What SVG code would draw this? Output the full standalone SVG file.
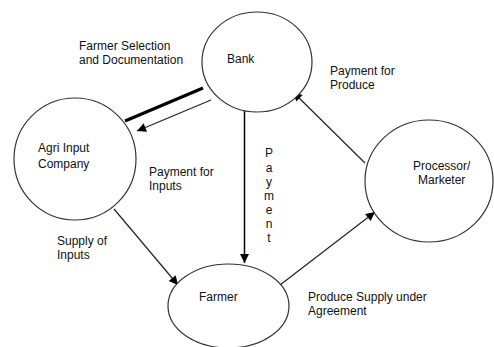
<svg xmlns="http://www.w3.org/2000/svg" width="494" height="347" viewBox="0 0 494 347">
<style>
.node{fill:#fff;stroke:#333;stroke-width:1.2}
.t{font-family:"Liberation Sans",Arial,sans-serif;font-size:12px;fill:#111}
.c{stroke:#222;stroke-width:1.2;fill:none}
</style>
<defs>
<marker id="ah" viewBox="0 0 10 10" refX="10" refY="5" markerWidth="11" markerHeight="9" markerUnits="userSpaceOnUse" orient="auto">
<path d="M0,0 L10,5 L0,10 z" fill="#000"/>
</marker>
</defs>
<rect width="494" height="347" fill="#fff"/>
<g id="connectors">
<line class="c" x1="203" y1="88" x2="125" y2="121" style="stroke-width:3;stroke:#000"/>
<line class="c" x1="211" y1="100" x2="137" y2="131" marker-end="url(#ah)"/>
<line class="c" x1="244.5" y1="111" x2="244.5" y2="263" marker-end="url(#ah)" style="stroke-width:1.5;stroke:#000"/>
<line class="c" x1="365" y1="163" x2="293" y2="92" marker-end="url(#ah)"/>
<line class="c" x1="114" y1="209" x2="178" y2="285" marker-end="url(#ah)"/>
<line class="c" x1="280" y1="285" x2="375" y2="212" marker-end="url(#ah)"/>
</g>
<g id="bank">
<ellipse class="node" cx="257" cy="62" rx="55" ry="50"/>
<text class="t" x="227" y="63">Bank</text>
</g>
<g id="agri">
<ellipse class="node" cx="75" cy="159" rx="61" ry="61"/>
<text class="t" x="38" y="152">Agri Input</text>
<text class="t" x="38" y="168">Company</text>
</g>
<g id="farmer">
<ellipse class="node" cx="228.5" cy="306" rx="60.5" ry="42"/>
<text class="t" x="199" y="301">Farmer</text>
</g>
<g id="processor">
<ellipse class="node" cx="429" cy="181" rx="64" ry="61"/>
<text class="t" x="413" y="170">Processor/</text>
<text class="t" x="418" y="184">Marketer</text>
</g>
<g id="labels">
<text class="t" x="79" y="50">Farmer Selection</text>
<text class="t" x="79" y="64">and Documentation</text>
<text class="t" x="330" y="75">Payment for</text>
<text class="t" x="330" y="89">Produce</text>
<text class="t" x="149" y="176">Payment for</text>
<text class="t" x="149" y="190">Inputs</text>
<text class="t" x="57" y="245">Supply of</text>
<text class="t" x="57" y="259">Inputs</text>
<text class="t" x="308" y="301">Produce Supply under</text>
<text class="t" x="308" y="315">Agreement</text>
<g class="t" text-anchor="middle">
<text x="269" y="157">P</text>
<text x="269" y="172">a</text>
<text x="269" y="186">y</text>
<text x="269" y="200">m</text>
<text x="269" y="214">e</text>
<text x="269" y="228">n</text>
<text x="269" y="242">t</text>
</g>
</g>
</svg>
